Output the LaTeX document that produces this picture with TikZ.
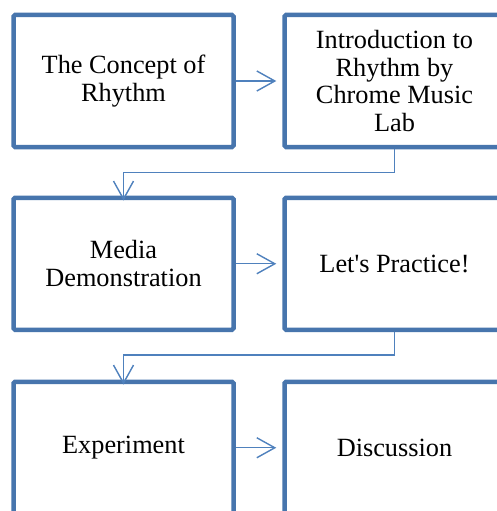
\documentclass[tikz,border=0pt]{standalone}
\usepackage{fontspec}
\setmainfont{Liberation Serif}
\usetikzlibrary{arrows.meta}
\definecolor{boxblue}{RGB}{71,117,173}
\definecolor{linkblue}{RGB}{79,129,189}
\begin{document}
\begin{tikzpicture}[x=1pt,y=-1pt,
  stepbox/.style={draw=boxblue, line width=4.5pt, rounded corners=1.5pt, fill=white,
    minimum width=220pt, minimum height=132pt, align=center, inner sep=0pt,
    font=\fontsize{26.3}{27.5}\selectfont, text=black},
  link/.style={draw=linkblue, line width=1.4pt, -{Straight Barb[length=18pt,width=20pt,line width=1.4pt]}}
]
\clip (0,0) rectangle (497,511);
\fill[white] (0,0) rectangle (497,511);
\node[stepbox] (a) at (123.5,81) {The Concept of\\Rhythm};
\node[stepbox] (b) at (394.5,81) {Introduction to\\Rhythm by\\Chrome Music\\Lab};
\node[stepbox] (c) at (123.5,263.75) {Media\\Demonstration};
\node[stepbox] (d) at (394.5,263.75) {Let\textquotesingle s Practice!};
\node[stepbox] (e) at (123.5,447.75) {Experiment};
\node[stepbox] (f) at (394.5,447.75) {Discussion};
\coordinate (bc) at ([yshift=-5pt]c.north);
\coordinate (ec) at ([yshift=-5pt]e.north);
\draw[link] (a.east) -- ([xshift=-6pt]b.west);
\draw[link] (c.east) -- ([xshift=-6pt]d.west);
\draw[link] (e.east) -- ([xshift=-6pt]f.west);
\draw[link] (b.south) -- ++(0,23) -| (bc);
\draw[link] (d.south) -- ++(0,23) -| (ec);
\end{tikzpicture}
\end{document}
